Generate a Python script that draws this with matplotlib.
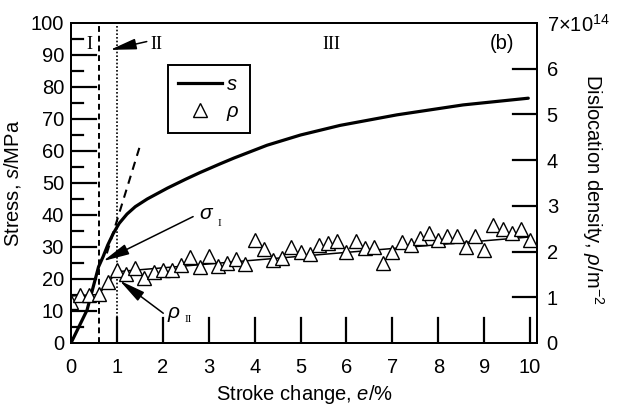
import matplotlib
matplotlib.use('Agg')
import matplotlib.pyplot as plt
from matplotlib.lines import Line2D

plt.rcParams['font.family'] = ['Liberation Sans', 'DejaVu Sans']
plt.rcParams['mathtext.fontset'] = 'custom'
plt.rcParams['mathtext.rm'] = 'Liberation Sans'
plt.rcParams['mathtext.it'] = 'Liberation Sans:italic'

# stress curve s (MPa) vs stroke change e (%)
stroke_s = [0, 0.35, 0.6, 0.7, 0.8, 0.92, 1.05, 1.22, 1.4, 1.66, 2.1, 2.5,
            2.8, 3.25, 3.55, 4.27, 5.0, 5.86, 7.1, 8.54, 9.96]
stress = [0, 10.3, 23.8, 27.0, 30.6, 34.2, 37.4, 40.3, 42.6, 45.0, 48.4, 51.2,
          53.2, 56.0, 57.8, 61.8, 65.0, 68.0, 71.3, 74.4, 76.5]

# dislocation density (x1e14 m^-2), one point every 0.2 %
stroke_rho = [round(0.2 * i, 1) for i in range(51)]
rho = [0.9, 1.05, 1.05, 1.08, 1.34, 1.6, 1.5, 1.63, 1.43, 1.56,
       1.6, 1.6, 1.71, 1.89, 1.67, 1.9, 1.68, 1.75, 1.83, 1.72,
       2.26, 2.05, 1.82, 1.87, 2.1, 2.0, 1.95, 2.14, 2.18, 2.24,
       2.0, 2.23, 2.07, 2.11, 1.76, 2.0, 2.22, 2.14, 2.29, 2.4,
       2.25, 2.34, 2.34, 2.11, 2.33, 2.03, 2.58, 2.49, 2.4, 2.49,
       2.25]

# fitted lines
fit_e = [0, 0.6, 1.0, 10.0]
fit_rho = [1.03, 1.06, 1.56, 2.32]
slope_e = [0.78, 1.5]
slope_s = [28, 61.5]

xticks = list(range(0, 11))
yticks = list(range(0, 101, 10))
yminor = list(range(5, 100, 10))
rticks = list(range(0, 8))
rlabels = ['0', '1', '2', '3', '4', '5', '6', '7×10$^{14}$']

fig = plt.figure(figsize=(6.29, 4.08), dpi=100)
ax = fig.add_axes([71 / 629, 65 / 408, 466 / 629, 320 / 408])
ax2 = ax.twinx()

ax.plot(stroke_s, stress, color='black', lw=2.3, solid_capstyle='round',
        solid_joinstyle='round')
ax.plot(slope_e, slope_s, color='black', lw=1.5, ls=(0, (4, 3)))
ax.axvline(0.6, color='black', lw=1.4, ls=(0, (3, 2)))
ax.axvline(1.0, color='black', lw=1.2, ls=(0, (1, 1.2)))

ax2.plot(fit_e, fit_rho, color='black', lw=1.1)
ax2.plot(stroke_rho, rho, ls='none', marker='^', ms=9.5, mfc='white',
         mec='black', mew=1.0)

ax.set_xlim(0, 10.15)
ax.set_ylim(0, 100)
ax2.set_ylim(0, 7)
ax.set_xticks(xticks)
ax.set_yticks(yticks)
ax.set_yticks(yminor, minor=True)
ax2.set_yticks(rticks)
ax2.set_yticklabels(rlabels)

for a in (ax, ax2):
    for sp in a.spines.values():
        sp.set_linewidth(1.4)

# inward tick marks as short axis lines; built-in tick lines switched off
ax.tick_params(axis='x', which='both', length=0, labelsize=14.5, pad=11)
ax.tick_params(axis='y', which='both', length=0, labelsize=14.5, pad=5)
ax2.tick_params(axis='y', which='both', length=0, labelsize=14.5, pad=7)
for t in xticks[1:]:
    ax.axvline(t, ymin=0, ymax=0.078, color='black', lw=1.6)
for t in yticks[1:-1]:
    ax.axhline(t, xmin=0, xmax=0.054, color='black', lw=1.6)
for t in yminor:
    ax.axhline(t, xmin=0, xmax=0.026, color='black', lw=1.6)
for t in rticks[1:-1]:
    ax2.axhline(t, xmin=1 - 0.052, xmax=1, color='black', lw=1.6)

ax.set_xlabel('Stroke change, $e$/%', fontsize=14.5)
ax.xaxis.set_label_coords(0.5, -0.125)
ax.set_ylabel('Stress, $s$/MPa', fontsize=14.5)
ax.yaxis.set_label_coords(-0.104, 0.5)
ax2.text(1.12, 0.48, r'Dislocation density, $\rho$/m$^{-2}$', fontsize=14.5,
         rotation=270, ha='center', va='center', transform=ax2.transAxes)

roman = 'Liberation Serif'
ax.text(0.40, 93.4, 'I', fontsize=13, family=roman, ha='center', va='center')
ax.text(1.87, 93.4, 'II', fontsize=13, family=roman, ha='center', va='center')
ax.text(5.68, 93.4, 'III', fontsize=13, family=roman, ha='center', va='center')
ax.text(9.38, 93.7, '(b)', fontsize=14.5, ha='center', va='center')

arrow = dict(arrowstyle='-|>,head_length=1.6,head_width=0.33',
             mutation_scale=10, color='black', lw=1.1, shrinkA=0, shrinkB=0)
ax.annotate('', xy=(0.85, 91.6), xytext=(1.65, 94.2), arrowprops=arrow)
ax.annotate('', xy=(0.70, 25.6), xytext=(2.66, 39.5), arrowprops=arrow)
ax.annotate('', xy=(1.06, 19.5), xytext=(2.01, 9.3), arrowprops=arrow)

ax.text(2.96, 40.5, r'$\sigma$', fontsize=15, ha='center', va='center')
ax.text(3.24, 37.2, 'I', fontsize=8, family=roman, ha='center', va='center')
ax.text(2.24, 8.9, r'$\rho$', fontsize=15, ha='center', va='center')
ax.text(2.55, 7.5, 'II', fontsize=8, family=roman, ha='center', va='center')

handles = [Line2D([], [], color='black', lw=2.3),
           Line2D([], [], ls='none', marker='^', ms=9.5, mfc='white',
                  mec='black', mew=1.0)]
leg = ax2.legend(handles, ['$s$', r'$\rho$'], loc='upper left',
                 bbox_to_anchor=(0.208, 0.869), borderaxespad=0,
                 fontsize=14.5, handlelength=2.2, handletextpad=0.2,
                 labelspacing=0.4, borderpad=0.5, fancybox=False,
                 framealpha=1, edgecolor='black')
leg.get_frame().set_linewidth(1.4)

fig.savefig('out.png', dpi=100)
